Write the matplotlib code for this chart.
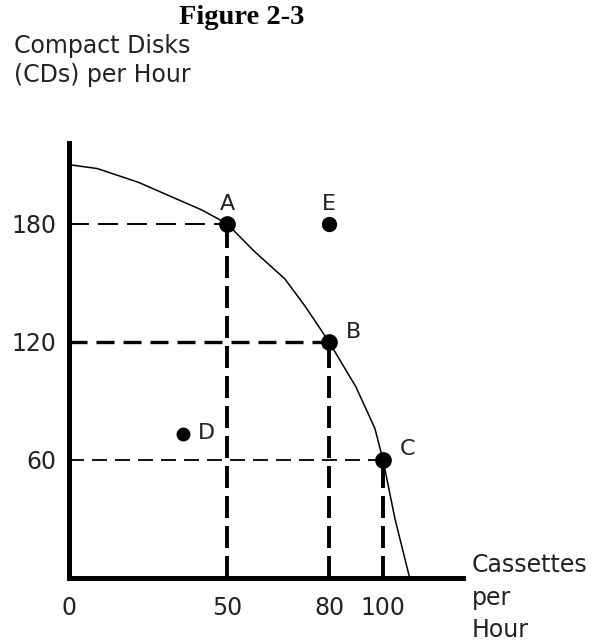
import numpy as np
import matplotlib
matplotlib.use("Agg")
import matplotlib.pyplot as plt

# ---- data ----
x_ticks = [0, 50, 80, 100]
y_ticks = [60, 120, 180]
curve_x = [0, 9, 22, 42, 50, 58, 67, 73, 80, 90, 97, 100, 104.5, 110]
curve_y = [210, 208, 201, 187, 180, 166, 152, 138, 120, 97, 76, 60, 30, 0]
point_names = ["A", "B", "C", "D", "E"]
point_x = [50, 80, 100, 36, 80]
point_y = [180, 120, 60, 73, 180]

# piecewise scale of the original (not drawn to scale)
scale_vals = [0, 50, 80, 100, 130]
scale_pos = [0, 158, 260, 314, 394]

def fwd(v):
    return np.interp(v, scale_vals, scale_pos)

def inv(p):
    return np.interp(p, scale_pos, scale_vals)

plt.rcParams['lines.scale_dashes'] = False
plt.rcParams['font.family'] = ['DejaVu Sans']

W, H = 595, 641
fig = plt.figure(figsize=(W / 100, H / 100), dpi=100)
ax = fig.add_axes([69 / W, (H - 578) / H, 394 / W, 435 / H])
ax.set_xscale('function', functions=(fwd, inv))
ax.set_xlim(0, 130)
ax.set_ylim(0, 221)

for s in ['top', 'right']:
    ax.spines[s].set_visible(False)
for s in ['left', 'bottom']:
    ax.spines[s].set_linewidth(3.6)
    ax.spines[s].set_capstyle('projecting')

ax.set_xticks(x_ticks)
ax.set_xticklabels([str(v) for v in x_ticks])
ax.set_yticks(y_ticks)
ax.set_yticklabels([str(v) for v in y_ticks])
ax.tick_params(axis='both', length=0, labelsize=17, colors='#222222')
ax.tick_params(axis='x', pad=13)
ax.tick_params(axis='y', pad=9)
ax.minorticks_off()

# dashed guide lines
px2pt = 0.72
ax.plot([0, point_x[0]], [point_y[0]] * 2, color='black', lw=1.4,
        dashes=(20 * px2pt, 9 * px2pt))
ax.plot([0, point_x[1]], [point_y[1]] * 2, color='black', lw=2.4,
        dashes=(18 * px2pt, 9 * px2pt))
ax.plot([0, point_x[2]], [point_y[2]] * 2, color='black', lw=1.3,
        dashes=(15 * px2pt, 8 * px2pt))
for i in range(3):
    ax.plot([point_x[i]] * 2, [0, point_y[i]], color='black', lw=2.8,
            dashes=(22 * px2pt, 8 * px2pt))

# curve
ax.plot(curve_x, curve_y, color='black', lw=1.1, solid_joinstyle='round')

# points
sizes = [11, 11, 11, 9, 10]
offsets = [(0, 14), (18, 7), (18, 8), (17, 1), (0, 14)]
for n, x, y, ms, off in zip(point_names, point_x, point_y, sizes, offsets):
    ax.plot([x], [y], 'o', color='black', ms=ms, zorder=5)
    ax.annotate(n, (x, y), xytext=off, textcoords='offset points',
                ha='center', va='center', fontsize=16, color='#222222')

# texts
fig.text(242 / W, 1 - 17 / H, "Figure 2-3", ha='center', va='center',
         fontsize=20.5, fontweight='bold', family='Liberation Serif')
fig.text(14 / W, 1 - 46 / H, "Compact Disks", ha='left', va='center',
         fontsize=17, color='#222222')
fig.text(14 / W, 1 - 75 / H, "(CDs) per Hour", ha='left', va='center',
         fontsize=17, color='#222222')
fig.text(472 / W, 1 - 565 / H, "Cassettes", ha='left', va='center',
         fontsize=17, color='#222222')
fig.text(472 / W, 1 - 598 / H, "per", ha='left', va='center',
         fontsize=17, color='#222222')
fig.text(472 / W, 1 - 630 / H, "Hour", ha='left', va='center',
         fontsize=17, color='#222222')

fig.savefig("out.png", dpi=100)
